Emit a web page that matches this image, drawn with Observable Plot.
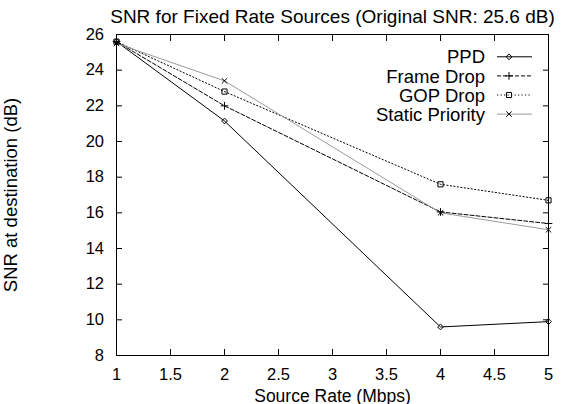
<!DOCTYPE html>
<html>
<head>
<meta charset="utf-8">
<script src="https://cdn.jsdelivr.net/npm/d3@7"></script>
<script src="https://cdn.jsdelivr.net/npm/@observablehq/plot@0.6"></script>
<style>
  body { margin: 0; background: #fff; }
  svg { font-family: "Liberation Sans", Arial, sans-serif; }
</style>
</head>
<body>
<div id="chart"></div>
<script>
const rates = [1, 2, 4, 5];
const seriesNames = ["PPD", "Frame Drop", "GOP Drop", "Static Priority"];
const ppd = [25.6, 21.15, 9.6, 9.9];
const frameDrop = [25.6, 22.0, 16.05, 15.4];
const gopDrop = [25.6, 22.8, 17.6, 16.7];
const staticPriority = [25.5, 23.4, 16.0, 15.05];
const xTicks = [1, 1.5, 2, 2.5, 3, 3.5, 4, 4.5, 5];
const yTicks = [8, 10, 12, 14, 16, 18, 20, 22, 24, 26];
const titleText = "SNR for Fixed Rate Sources (Original SNR: 25.6 dB)";
const xLabel = "Source Rate (Mbps)";
const yLabel = "SNR at destination (dB)";

const valuesBySeries = [ppd, frameDrop, gopDrop, staticPriority];
const styles = {
  "PPD": {stroke: "#000", dash: null, symbol: "diamond2", r: 2.6},
  "Frame Drop": {stroke: "#000", dash: "4,2", symbol: "plus", r: 2.6},
  "GOP Drop": {stroke: "#000", dash: "1.2,2.3", symbol: "square", r: 2.9},
  "Static Priority": {stroke: "#9a9a9a", dash: null, symbol: "times", r: 2.6}
};
const TITLE_FS = 19, LABEL_FS = 18.5, XLABEL_FS = 17.5, TICK_FS = 16.5;

const data = [];
seriesNames.forEach((name, i) => {
  rates.forEach((x, j) => data.push({series: name, x, y: valuesBySeries[i][j]}));
});

const marks = [Plot.frame({stroke: "#000", strokeWidth: 1})];
seriesNames.forEach(name => {
  const s = styles[name];
  const d = data.filter(p => p.series === name);
  marks.push(Plot.line(d, {x: "x", y: "y", stroke: s.stroke, strokeWidth: 1, strokeDasharray: s.dash}));
});
seriesNames.forEach(name => {
  const s = styles[name];
  const d = data.filter(p => p.series === name);
  marks.push(Plot.dot(d, {x: "x", y: "y", symbol: () => s.symbol, r: s.r, stroke: "#000", strokeWidth: 1, fill: "none"}));
});

marks.push(
  Plot.axisX(xTicks, {anchor: "bottom", tickSize: 0, tickPadding: 13, fontSize: TICK_FS, fill: "#000", tickFormat: d => String(d), label: null}),
  Plot.axisY(yTicks, {anchor: "left", tickSize: 0, tickPadding: 12.5, fontSize: TICK_FS, fill: "#000", label: null}),
  Plot.axisX(xTicks, {anchor: "bottom", tickSize: -6, tickFormat: () => "", label: null}),
  Plot.axisX(xTicks, {anchor: "top", tickSize: -6, tickFormat: () => "", label: null}),
  Plot.axisY(yTicks, {anchor: "left", tickSize: -6, tickFormat: () => "", label: null}),
  Plot.axisY(yTicks, {anchor: "right", tickSize: -6, tickFormat: () => "", label: null}),
  Plot.text([titleText], {frameAnchor: "top", textAnchor: "middle", lineAnchor: "bottom", dy: -11.5, fontSize: TITLE_FS, fill: "#000"}),
  Plot.text([xLabel], {frameAnchor: "bottom", textAnchor: "middle", lineAnchor: "bottom", dy: 46, fontSize: XLABEL_FS, fill: "#000"}),
  Plot.text([yLabel], {frameAnchor: "left", textAnchor: "middle", lineAnchor: "bottom", dx: -100, rotate: -90, fontSize: LABEL_FS, fill: "#000"})
);

const chart = Plot.plot({
  width: 565,
  height: 404,
  marginTop: 34,
  marginLeft: 116,
  marginRight: 17,
  marginBottom: 49,
  style: {fontFamily: "'Liberation Sans', Arial, sans-serif", background: "#fff", overflow: "visible"},
  x: {domain: [1, 5]},
  y: {domain: [8, 26]},
  symbol: {type: "identity"},
  marks
});
document.getElementById("chart").appendChild(chart);

// Key (legend) inside the plot, top right, gnuplot style
const svg = d3.select(chart);
const key = svg.append("g").attr("font-size", LABEL_FS).attr("fill", "#000")
  .attr("font-family", "'Liberation Sans', Arial, sans-serif");
const textRight = 485, lineX1 = 497, lineX2 = 532, markX = 509, keyTop = 56.8, keyStep = 19.1;
const symGen = {
  diamond2: d3.symbolDiamond2, plus: d3.symbolPlus, square: d3.symbolSquare, times: d3.symbolTimes
};
seriesNames.forEach((name, i) => {
  const s = styles[name];
  const yy = keyTop + i * keyStep;
  key.append("text").attr("x", textRight).attr("y", yy).attr("dy", "0.36em")
    .attr("text-anchor", "end").text(name);
  key.append("line").attr("x1", lineX1).attr("x2", lineX2).attr("y1", yy).attr("y2", yy)
    .attr("stroke", s.stroke).attr("stroke-width", 1).attr("stroke-dasharray", s.dash);
  const size = Math.PI * s.r * s.r;
  key.append("path").attr("d", d3.symbol(symGen[s.symbol], size)())
    .attr("transform", `translate(${markX},${yy})`)
    .attr("fill", "none").attr("stroke", "#000").attr("stroke-width", 1);
});
</script>
</body>
</html>
